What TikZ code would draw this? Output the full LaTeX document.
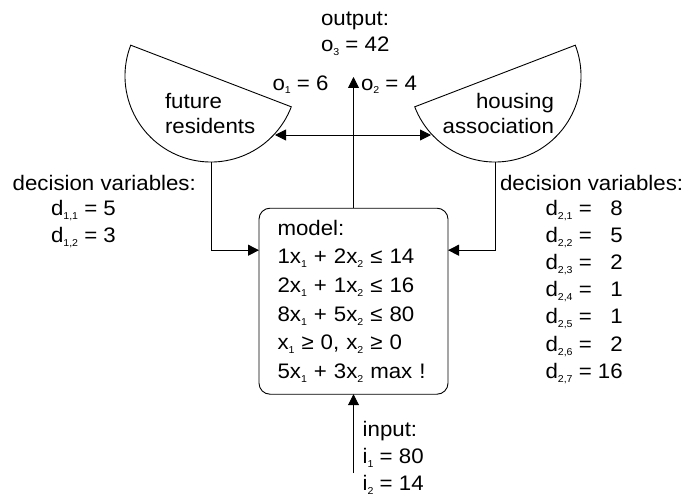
\documentclass[tikz,border=0pt]{standalone}
\usepackage{fontspec}
\setmainfont{Liberation Sans}[FakeStretch=1.06]
\usetikzlibrary{arrows.meta}
\newcommand{\subs}[1]{\raisebox{-4pt}{\fontsize{10}{10}\selectfont #1}}
\begin{document}
\begin{tikzpicture}[x=1pt,y=-1pt,
  every node/.style={inner sep=0pt, outer sep=0pt, font=\fontsize{21}{27.2}\selectfont},
  line/.style={line width=0.9pt},
  arr/.style={line, -{Triangle[length=11pt,width=11pt]}},
  dblarr/.style={line, {Triangle[length=11pt,width=11pt]}-{Triangle[length=11pt,width=11pt]}},
  modelbox/.style={draw, line, rounded corners=11pt, minimum width=189pt, minimum height=186pt,
    text width=152pt, align=left, font=\fontsize{21}{28.7}\selectfont},
  lbl/.style={anchor=base west},
  rlbl/.style={anchor=base east}]
\useasboundingbox (0,0) rectangle (683,495);

% bowls (actors)
\coordinate (Lc) at (211,76);
\coordinate (Rc) at (495,76);
\draw[line] (Lc) ++(21:86) arc[start angle=21, end angle=201, radius=86] -- cycle;
\draw[line] (Rc) ++(-21:86) arc[start angle=-21, end angle=159, radius=86] -- cycle;
\coordinate (Lb) at (211.5,162);
\coordinate (Rb) at (495,162);
\coordinate (Larc) at (275,135);
\coordinate (Rarc) at (431,135);

\node[lbl] (fr1) at (165,108) {future};
\node[lbl] (fr2) at (165,133) {residents};
\node[rlbl] (ha1) at (554,108) {housing};
\node[rlbl] (ha2) at (554,133) {association};

% model
\node[modelbox] (model) at (353.5,301.2) {model:\\
1x\subs{1} + 2x\subs{2} ≤ 14\\
2x\subs{1} + 1x\subs{2} ≤ 16\\
8x\subs{1} + 5x\subs{2} ≤ 80\\
x\subs{1} ≥ 0, x\subs{2} ≥ 0\\
5x\subs{1} + 3x\subs{2} max !};

\coordinate (outtip) at (353.5,77);
\coordinate (intail) at (353.5,473);

% connectors
\draw[arr] (model.north) -- (outtip);
\draw[arr] (intail) -- (model.south);
\draw[arr] (Lb) |- ([yshift=-42pt]model.north west);
\draw[arr] (Rb) |- ([yshift=-42pt]model.north east);
\draw[dblarr] (Larc) -- (Rarc);

% output labels
\node[lbl] (outlbl) at (321,26) {output:};
\node[lbl] (o3) at (321,51.7) {o\subs{3} = 42};
\node[lbl] (o1) at (272.5,90) {o\subs{1} = 6};
\node[lbl] (o2) at (361,90) {o\subs{2} = 4};

% decision variables
\node[lbl] (dvL) at (12.7,190) {decision variables:};
\node[lbl] (dL) at (51,215) {\begin{tabular}[t]{@{}l@{}}
d\subs{1,1} = 5\\
d\subs{1,2} = 3
\end{tabular}};
\node[lbl] (dvR) at (500,190) {decision variables:};
\node[lbl] (dR) at (545.5,215) {\begin{tabular}[t]{@{}l@{}}
d\subs{2,1} = \hphantom{1}8\\
d\subs{2,2} = \hphantom{1}5\\
d\subs{2,3} = \hphantom{1}2\\
d\subs{2,4} = \hphantom{1}1\\
d\subs{2,5} = \hphantom{1}1\\
d\subs{2,6} = \hphantom{1}2\\
d\subs{2,7} = 16
\end{tabular}};

% input
\node[lbl] (inp) at (362.7,436.7) {\fontsize{21}{26.7}\selectfont\begin{tabular}[t]{@{}l@{}}
input:\\
i\subs{1} = 80\\
i\subs{2} = 14
\end{tabular}};
\end{tikzpicture}
\end{document}
